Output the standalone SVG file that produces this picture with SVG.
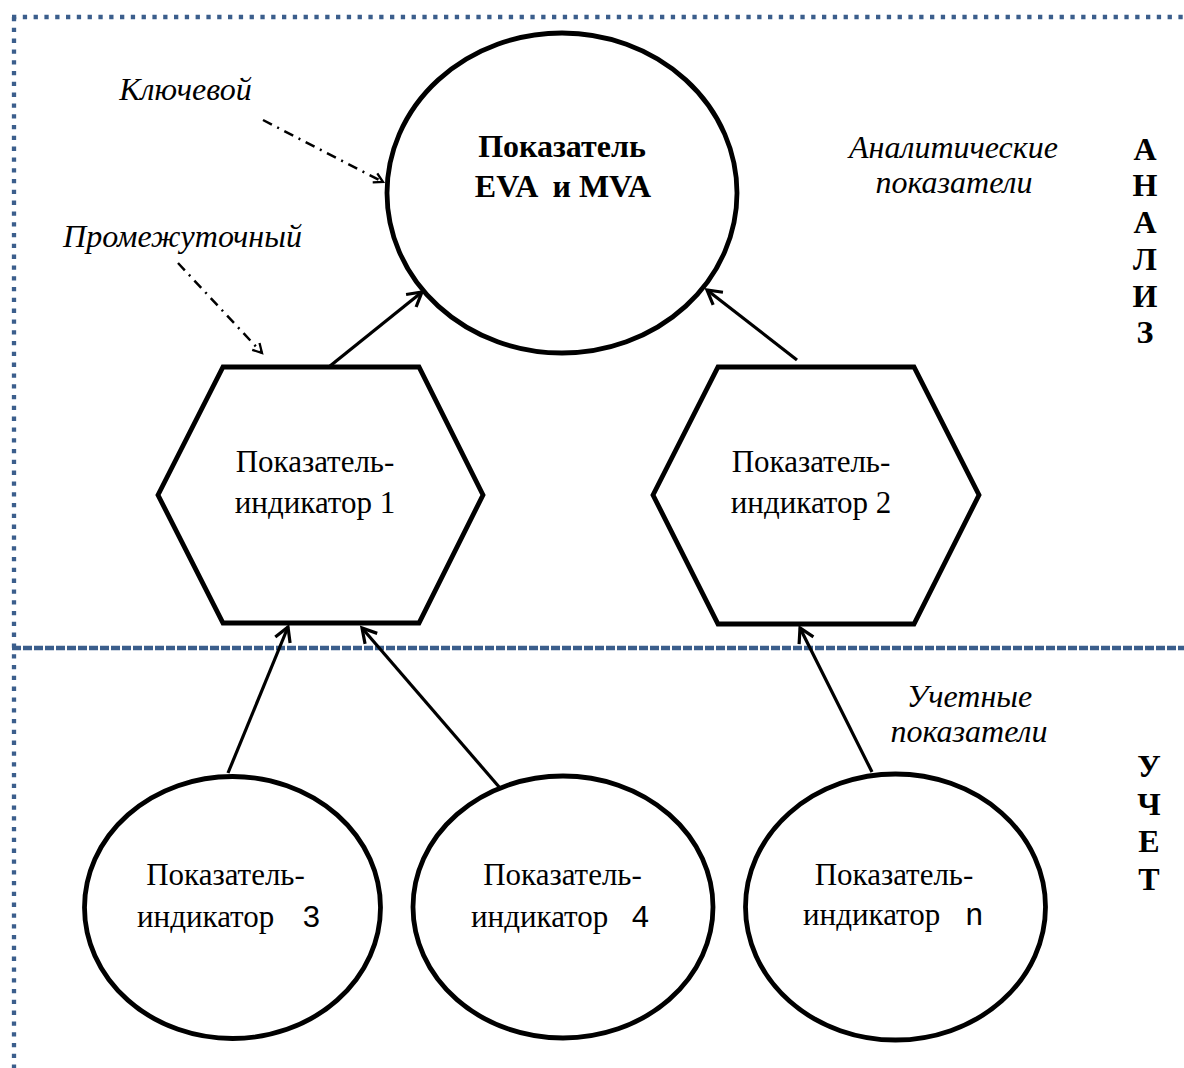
<svg xmlns="http://www.w3.org/2000/svg" width="1184" height="1068" viewBox="0 0 1184 1068">
<style>
.frame{fill:none;stroke:#3b5e8c;stroke-width:4.3;stroke-dasharray:4.3 6.5}
.mid{fill:none;stroke:#3b5e8c;stroke-width:4.5;stroke-dasharray:9 2}
.shape{fill:#fff;stroke:#000;stroke-width:4.8}
.conn{fill:none;stroke:#000;stroke-width:3.2;marker-end:url(#arr)}
.dd{fill:none;stroke:#000;stroke-width:2.5;stroke-dasharray:10 6 2 6;marker-end:url(#arr2)}
text{font-family:"Liberation Serif","Times New Roman",serif;font-size:31px;fill:#000}
.b{font-weight:bold;font-size:32px}
.s{font-weight:bold;font-size:32px}
.i{font-style:italic;font-size:32px}
.m{font-family:"Liberation Mono","Courier New",monospace}
.c{text-anchor:middle}
</style>
<defs>
<marker id="arr" markerUnits="userSpaceOnUse" markerWidth="30" markerHeight="30" viewBox="-20 -15 30 30" refX="0" refY="0" orient="auto" overflow="visible">
<path d="M-14,-8 L0,0 L-14,8" fill="none" stroke="#000" stroke-width="3.2"/>
</marker>
<marker id="arr2" markerUnits="userSpaceOnUse" markerWidth="20" markerHeight="20" viewBox="-15 -10 20 20" refX="0" refY="0" orient="auto" overflow="visible">
<path d="M-9,-5 L0,0 L-9,5" fill="none" stroke="#000" stroke-width="2.3"/>
</marker>
</defs>
<rect width="1184" height="1068" fill="#fff"/>
<g id="frame">
<line class="frame" x1="12" y1="17" x2="1184" y2="17"/>
<line class="frame" x1="14" y1="17" x2="14" y2="1068"/>
<line class="mid" x1="12" y1="648" x2="1184" y2="648"/>
</g>
<g id="connectors">
<line class="conn" x1="330" y1="366" x2="422" y2="292"/>
<line class="conn" x1="797" y1="360" x2="707" y2="290"/>
<line class="conn" x1="228" y1="773" x2="288" y2="627"/>
<line class="conn" x1="500" y1="788" x2="362" y2="628"/>
<line class="conn" x1="872" y1="772" x2="800" y2="628"/>
<line class="dd" x1="263" y1="120" x2="383" y2="182"/>
<line class="dd" x1="178" y1="263" x2="262" y2="353"/>
</g>
<g id="node-main">
<ellipse class="shape" cx="562" cy="193" rx="175" ry="160"/>
<text class="b c" x="562" y="157">Показатель</text>
<text class="b c" x="563" y="197" xml:space="preserve">EVA  и MVA</text>
</g>
<g id="node-hex1">
<polygon class="shape" points="158,495 223,367 419,367 483,495 419,623 223,623"/>
<text class="c" x="315" y="472">Показатель-</text>
<text class="c" x="315" y="513">индикатор 1</text>
</g>
<g id="node-hex2">
<polygon class="shape" points="653,495 718,367 914,367 979,495 914,624 718,624"/>
<text class="c" x="811" y="472">Показатель-</text>
<text class="c" x="811" y="513">индикатор 2</text>
</g>
<g id="node-ind3">
<ellipse class="shape" cx="232.5" cy="907.5" rx="148" ry="131"/>
<text class="c" x="225.5" y="885">Показатель-</text>
<text x="137" y="927">индикатор<tspan class="m" x="302">3</tspan></text>
</g>
<g id="node-ind4">
<ellipse class="shape" cx="563" cy="907" rx="150" ry="131"/>
<text class="c" x="562.5" y="885">Показатель-</text>
<text x="471" y="927">индикатор<tspan class="m" x="631">4</tspan></text>
</g>
<g id="node-indn">
<ellipse class="shape" cx="895.5" cy="907" rx="150" ry="133"/>
<text class="c" x="894" y="885">Показатель-</text>
<text x="803" y="925">индикатор<tspan class="m" x="965">n</tspan></text>
</g>
<g id="labels">
<text class="i c" x="185.5" y="100">Ключевой</text>
<text class="i c" x="182.5" y="247">Промежуточный</text>
<text class="i c" x="953.5" y="158">Аналитические</text>
<text class="i c" x="954" y="193">показатели</text>
<text class="i c" x="969.5" y="707">Учетные</text>
<text class="i c" x="969" y="742">показатели</text>
</g>
<g id="side-analysis">
<text class="s c" x="1145" y="160">А</text>
<text class="s c" x="1145" y="196">Н</text>
<text class="s c" x="1145" y="233">А</text>
<text class="s c" x="1145" y="270">Л</text>
<text class="s c" x="1145" y="307">И</text>
<text class="s c" x="1145" y="343">З</text>
</g>
<g id="side-accounting">
<text class="s c" x="1149" y="777">У</text>
<text class="s c" x="1149" y="815">Ч</text>
<text class="s c" x="1149" y="852">Е</text>
<text class="s c" x="1149" y="890">Т</text>
</g>
</svg>
